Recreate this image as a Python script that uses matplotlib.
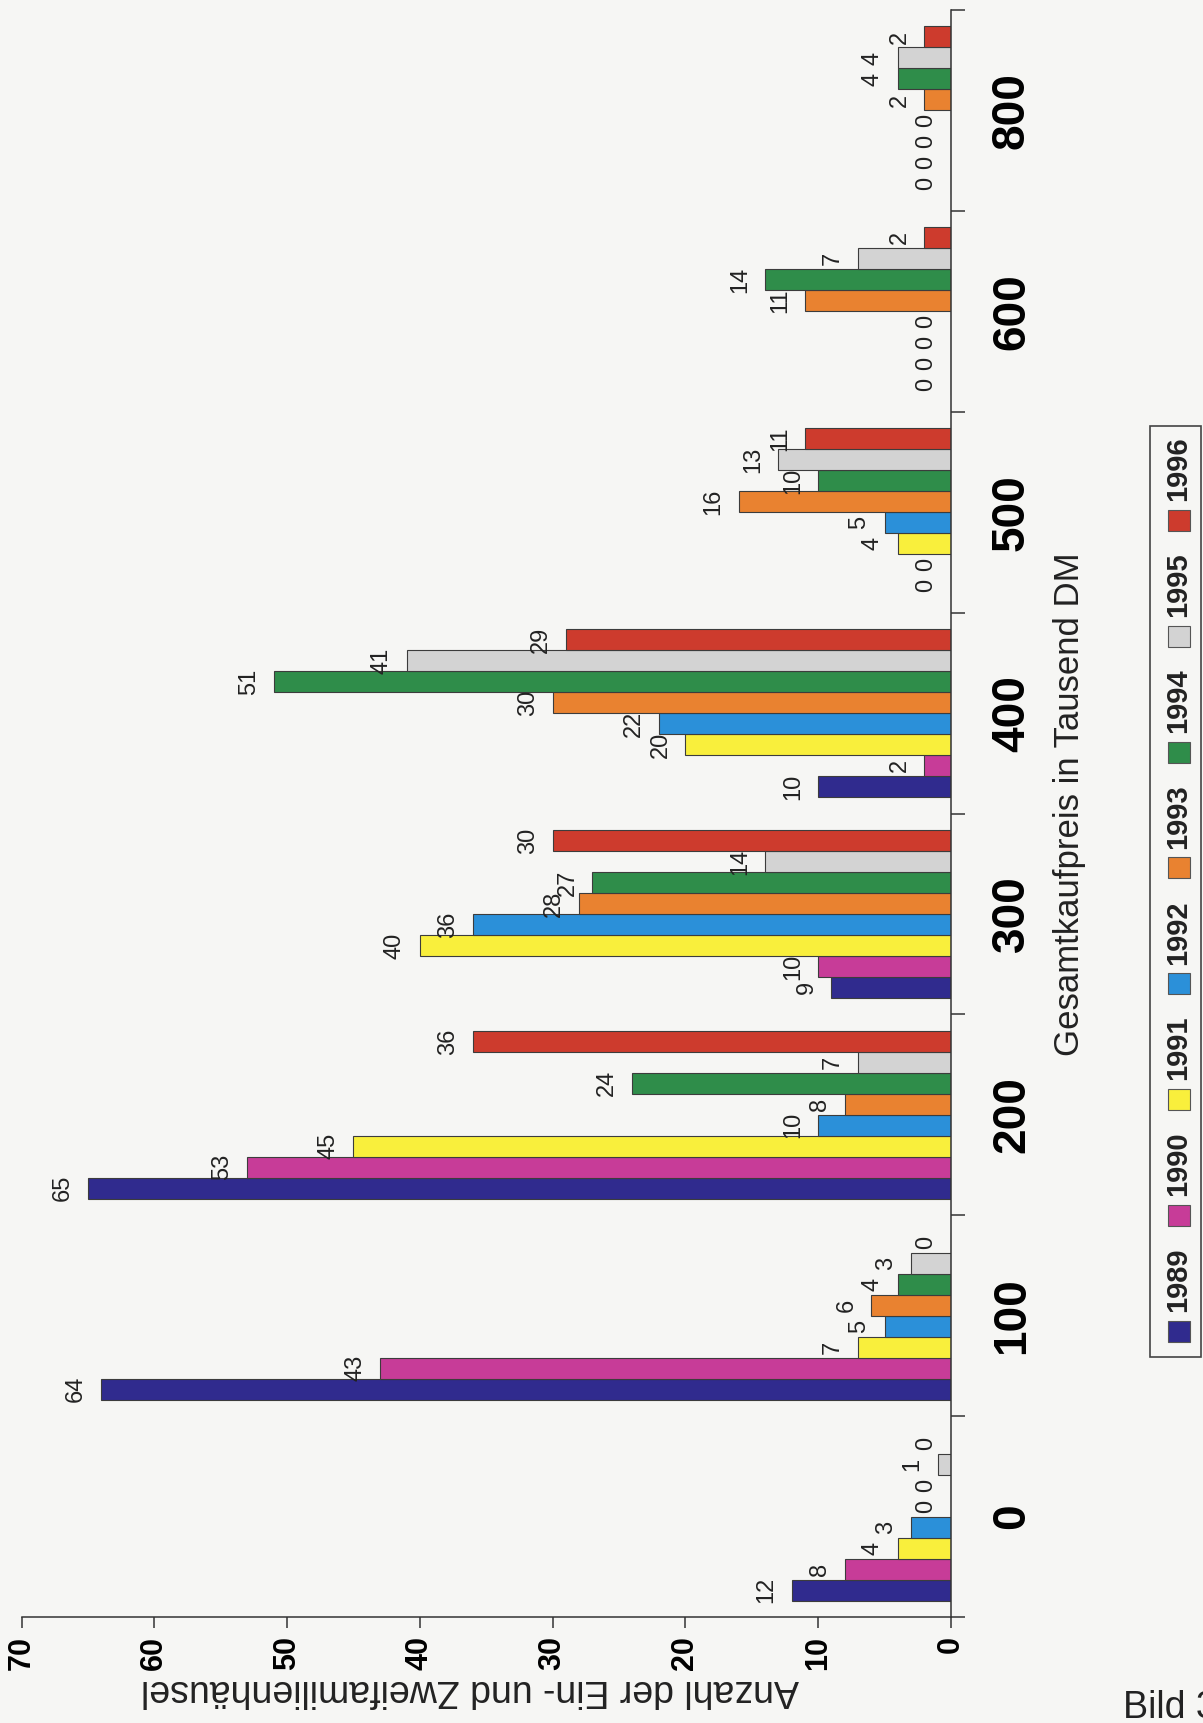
import numpy as np
import matplotlib
matplotlib.use("Agg")
import matplotlib.pyplot as plt
from matplotlib.patches import Rectangle

# Kaufpreisklassen (Tausend DM) und Jahrgänge
price_labels = ["0", "100", "200", "300", "400", "500", "600", "800"]
years = ["1989", "1990", "1991", "1992", "1993", "1994", "1995", "1996"]

# Anzahl der Ein- und Zweifamilienhäuser je Jahr, Reihenfolge wie price_labels
n_1989 = [12, 64, 65, 9, 10, 0, 0, 0]
n_1990 = [8, 43, 53, 10, 2, 0, 0, 0]
n_1991 = [4, 7, 45, 40, 20, 4, 0, 0]
n_1992 = [3, 5, 10, 36, 22, 5, 0, 0]
n_1993 = [0, 6, 8, 28, 30, 16, 11, 2]
n_1994 = [0, 4, 24, 27, 51, 10, 14, 4]
n_1995 = [1, 3, 7, 14, 41, 13, 7, 4]
n_1996 = [0, 0, 36, 30, 29, 11, 2, 2]
series = [n_1989, n_1990, n_1991, n_1992, n_1993, n_1994, n_1995, n_1996]

colors = ["#302b8e", "#c73c98", "#f9ef3c", "#2b90d9", "#e98230",
          "#2f8d4a", "#d3d3d3", "#cd3b2d"]

W, H = 1203, 1723
paper = "#f6f6f4"
ink = "#333333"
narrow = ["Liberation Sans Narrow", "Liberation Sans", "DejaVu Sans"]
normal = ["Liberation Sans", "DejaVu Sans"]


def fx(px):
    return px / W


def fy(py):
    # image row (from top) -> figure fraction
    return 1 - py / H


fig = plt.figure(figsize=(W / 100, H / 100), dpi=100, facecolor=paper)
ax = fig.add_axes([fx(21.5), fy(1617), fx(951) - fx(21.5), fy(10) - fy(1617)])
ax.set_facecolor("none")

n_groups = len(price_labels)
bar_h = 0.1045
pos = np.arange(n_groups)

for j, (vals, col) in enumerate(zip(series, colors)):
    y = pos + (j - 3.5) * bar_h
    ax.barh(y, vals, height=bar_h, color=col, edgecolor="#3c3c3c",
            linewidth=0.8, zorder=2)
    for yy, v in zip(y, vals):
        ax.annotate(str(v), xy=(v, yy), xytext=(-14, 0),
                    textcoords="offset pixels", rotation=90,
                    ha="right", va="center", fontsize=17,
                    family=narrow, color="#222222", zorder=3)

# value axis runs right-to-left along the bottom
ax.set_xlim(70, 0)
ax.set_ylim(-0.5, n_groups - 0.5)

for s in ["top", "left"]:
    ax.spines[s].set_visible(False)
for s in ["bottom", "right"]:
    ax.spines[s].set_color(ink)
    ax.spines[s].set_linewidth(1.1)

ax.set_xticks(np.arange(0, 71, 10))
ax.tick_params(axis="x", direction="out", length=8, width=1.1, color=ink,
               pad=6, labelrotation=90, labelsize=22)
for lbl in ax.get_xticklabels():
    lbl.set_fontfamily(narrow)
    lbl.set_fontweight("bold")

ax.yaxis.set_ticks_position("right")
ax.set_yticks(pos)
ax.set_yticklabels(price_labels)
ax.set_yticks(np.arange(-0.5, n_groups, 1), minor=True)
ax.tick_params(axis="y", which="major", length=0, pad=28, labelsize=33,
               labelrotation=90)
ax.tick_params(axis="y", which="minor", direction="out", length=10,
               width=1.1, color=ink)
for lbl in ax.get_yticklabels():
    lbl.set_fontfamily(narrow)
    lbl.set_fontweight("bold")
    lbl.set_va("center")

# axis titles
fig.text(fx(1070), fy(804), "Gesamtkaufpreis in Tausend DM", rotation=90,
         ha="center", va="center", fontsize=25, family=narrow, color="#222222")
fig.text(fx(470), fy(1690), "Anzahl der Ein- und Zweifamilienhäusel",
         rotation=180, ha="center", va="center", fontsize=27,
         family=normal, color="#222222")
fig.text(fx(1123), fy(1718), "Bild 3", ha="left", va="baseline",
         fontsize=27, family=normal, color="#222222")

# legend box, entries stacked upward and reading bottom-to-top
fig.patches.append(Rectangle((fx(1150), fy(1357)), fx(1201) - fx(1150),
                             fy(426) - fy(1357), transform=fig.transFigure,
                             facecolor="none", edgecolor="#444444", lw=1.2))
for k, (yr, col) in enumerate(zip(years, colors)):
    cy = 1331 - 115.8 * k
    fig.patches.append(Rectangle((fx(1168), fy(cy + 10.5)), fx(22), 21 / H,
                                 transform=fig.transFigure, facecolor=col,
                                 edgecolor="#555555", lw=0.8))
    fig.text(fx(1178), fy(cy - 19), yr, rotation=90, ha="center",
             va="bottom", fontsize=21, fontweight="bold", family=narrow,
             color="#222222")

fig.savefig("out.png", dpi=100, facecolor=paper)
